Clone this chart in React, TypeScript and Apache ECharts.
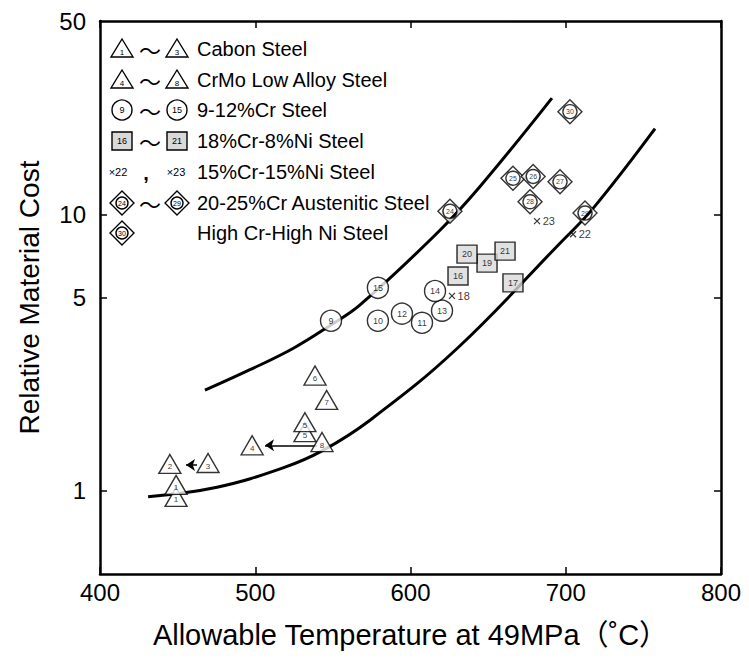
import React, { useEffect, useRef } from 'react';
import * as echarts from 'echarts';

// ---- axes ----
const X_MIN = 400;
const X_MAX = 800;
const X_STEP = 100;
const Y_MIN = 0.5;
const Y_MAX = 50;
const yLabelValues = [1, 5, 10, 50];
const yTickValues = [1, 5, 10];

// ---- data (temperature °C, relative cost, id) ----
const triangleTemps = [449, 449, 445, 469.6, 498, 543, 532, 532, 546, 538.5];
const triangleCosts = [0.95, 1.05, 1.25, 1.26, 1.46, 1.5, 1.63, 1.77, 2.13, 2.61];
const triangleIds = ['1', '1', '2', '3', '4', '8', '5', '5', '7', '6'];

const circleTemps = [548.8, 579, 579, 594.5, 607.4, 620.3, 615.8];
const circleCosts = [4.12, 5.42, 4.12, 4.37, 4.05, 4.48, 5.28];
const circleIds = ['9', '15', '10', '12', '11', '13', '14'];

const squareTemps = [630.6, 666, 649.3, 636.4, 660.9];
const squareCosts = [5.98, 5.65, 6.66, 7.18, 7.36];
const squareIds = ['16', '17', '19', '20', '21'];

const crossTemps = [626.7, 681.5, 704.7];
const crossCosts = [5.07, 9.44, 8.47];
const crossIds = ['18', '23', '22'];

const diamondTemps = [625.4, 666, 679, 696.3, 677, 712.4];
const diamondCosts = [10.25, 13.5, 13.7, 13.1, 11.1, 10.1];
const diamondIds = ['24', '25', '26', '27', '28', '29'];

const highNiTemps = [702.7];
const highNiCosts = [23.5];
const highNiIds = ['30'];

// ---- trend curves ----
const upperTemps = [467.6, 496.6, 524.3, 548.8, 567.5, 617.7, 644.8, 691.1];
const upperCosts = [2.31, 2.74, 3.27, 3.98, 4.7, 8.61, 12.6, 26.3];
const lowerTemps = [431, 475.4, 517.9, 543.6, 573.9, 630, 696.3, 717.6, 757.5];
const lowerCosts = [0.952, 1.03, 1.21, 1.4, 1.8, 3.27, 7.86, 10.5, 20.4];

// ---- arrows ----
const arrowFromTemps = [539.8, 462.5];
const arrowToTemps = [506.3, 455.4];
const arrowCosts = [1.46, 1.24];

const FONT = '"Liberation Sans", Arial, "Noto Sans CJK JP", sans-serif';
const CJK = '"Noto Sans CJK JP", "Liberation Sans", sans-serif';

const zip = (xs: number[], ys: number[], ids: string[]) =>
  xs.map((x, i) => ({ value: [x, ys[i]], name: ids[i] }));
const pairs = (xs: number[], ys: number[]) => xs.map((x, i) => [x, ys[i]]);

const DIAMOND_PATH =
  'path://M12,0 L24,12 L12,24 L0,12 Z M12,5 A7,7 0 1,0 12.01,5 Z';
const CROSS_PATH = 'path://M0,0 L10,10 M10,0 L0,10';

const markerStyle = { color: '#fff', borderColor: '#000', borderWidth: 1.4 };
const innerLabel = (size: number, dy = 0) => ({
  show: true,
  position: 'inside',
  formatter: '{b}',
  color: '#000',
  textBorderWidth: 0,
  fontSize: size,
  fontFamily: FONT,
  offset: [0, dy],
});

const stroke = { fill: '#fff', stroke: '#000', lineWidth: 1.4 };
const smallText = (x: number, y: number, t: string, size = 9, weight = 'normal') => ({
  type: 'text',
  x,
  y,
  style: {
    text: t,
    fill: '#000',
    font: `${weight} ${size}px ${FONT}`,
    textAlign: 'center',
    textVerticalAlign: 'middle',
  },
});
const legTri = (cx: number, cy: number, t: string) => [
  {
    type: 'polygon',
    shape: { points: [[cx, cy - 10], [cx + 11, cy + 8], [cx - 11, cy + 8]] },
    style: stroke,
  },
  smallText(cx, cy + 3, t, 8),
];
const legCirc = (cx: number, cy: number, t: string) => [
  { type: 'circle', shape: { cx, cy, r: 10 }, style: stroke },
  smallText(cx, cy, t, 9),
];
const legRect = (cx: number, cy: number, t: string) => [
  { type: 'rect', shape: { x: cx - 10, y: cy - 9, width: 20, height: 18 }, style: { ...stroke, fill: '#d9d9d9' } },
  smallText(cx, cy, t, 9),
];
const legDia = (cx: number, cy: number, t: string) => [
  {
    type: 'polygon',
    shape: { points: [[cx, cy - 12], [cx + 12, cy], [cx, cy + 12], [cx - 12, cy]] },
    style: stroke,
  },
  { type: 'circle', shape: { cx, cy, r: 6 }, style: stroke },
  smallText(cx, cy, t, 7),
];
const tilde = (cy: number) => ({
  type: 'text',
  x: 150,
  y: cy,
  style: {
    text: '〜',
    fill: '#000',
    font: `22px ${CJK}`,
    textAlign: 'center',
    textVerticalAlign: 'middle',
  },
});
const legText = (cy: number, t: string) => ({
  type: 'text',
  x: 197,
  y: cy,
  style: {
    text: t,
    fill: '#000',
    font: `20px ${FONT}`,
    textAlign: 'left',
    textVerticalAlign: 'middle',
  },
});

function buildLegend() {
  const r = [49, 80, 110, 141, 172, 203, 233];
  return [
    ...legTri(122, r[0], '1'), tilde(r[0]), ...legTri(177, r[0], '3'), legText(r[0], 'Cabon Steel'),
    ...legTri(122, r[1], '4'), tilde(r[1]), ...legTri(177, r[1], '8'), legText(r[1], 'CrMo Low Alloy Steel'),
    ...legCirc(122, r[2], '9'), tilde(r[2]), ...legCirc(177, r[2], '15'), legText(r[2], '9-12%Cr Steel'),
    ...legRect(122, r[3], '16'), tilde(r[3]), ...legRect(177, r[3], '21'), legText(r[3], '18%Cr-8%Ni Steel'),
    smallText(118, r[4], '×22', 11), smallText(146, r[4] + 1, ',', 20, 'bold'), smallText(176, r[4], '×23', 11),
    legText(r[4], '15%Cr-15%Ni Steel'),
    ...legDia(122, r[5], '24'), tilde(r[5]), ...legDia(177, r[5], '29'), legText(r[5], '20-25%Cr Austenitic Steel'),
    ...legDia(122, r[6], '30'), legText(r[6], 'High Cr-High Ni Steel'),
  ];
}

export default function App() {
  const ref = useRef<HTMLDivElement>(null);
  useEffect(() => {
    if (!ref.current) return;
    const chart = echarts.init(ref.current, null, { renderer: 'svg' });
    const axisLine = { show: true, lineStyle: { color: '#000', width: 2.5 } };
    const tick = { show: true, inside: true, length: 7, lineStyle: { color: '#000', width: 1.5 } };
    chart.setOption({
      animation: false,
      backgroundColor: '#fff',
      grid: { left: 100, right: 28, top: 21, bottom: 85, containLabel: false },
      xAxis: [
        {
          type: 'value',
          min: X_MIN,
          max: X_MAX,
          interval: X_STEP,
          name: 'Allowable Temperature at 49MPa（˚C）',
          nameLocation: 'middle',
          nameGap: 46,
          nameTextStyle: { color: '#000', fontSize: 29, fontFamily: FONT },
          axisLine,
          axisTick: tick,
          splitLine: { show: false },
          axisLabel: { color: '#000', fontSize: 24, fontFamily: FONT, margin: 6 },
        },
        {
          type: 'value',
          position: 'top',
          min: X_MIN,
          max: X_MAX,
          interval: X_STEP,
          axisLine,
          axisTick: tick,
          splitLine: { show: false },
          axisLabel: { show: false },
        },
      ],
      yAxis: [
        {
          type: 'log',
          logBase: 10,
          min: Y_MIN,
          max: Y_MAX,
          name: 'Relative Material Cost',
          nameLocation: 'middle',
          nameGap: 57,
          nameRotate: 90,
          nameTextStyle: { color: '#000', fontSize: 28, fontFamily: FONT },
          axisLine,
          axisTick: { ...tick, customValues: yTickValues },
          splitLine: { show: false },
          minorTick: { show: false },
          axisLabel: {
            color: '#000',
            fontSize: 24,
            fontFamily: FONT,
            margin: 14,
            customValues: yLabelValues,
          },
        },
        {
          type: 'log',
          logBase: 10,
          min: Y_MIN,
          max: Y_MAX,
          position: 'right',
          axisLine,
          axisTick: { ...tick, customValues: yTickValues },
          splitLine: { show: false },
          axisLabel: { show: false },
        },
      ],
      graphic: buildLegend(),
      series: [
        {
          type: 'line',
          data: pairs(upperTemps, upperCosts),
          smooth: 0.4,
          showSymbol: false,
          symbol: 'none',
          lineStyle: { color: '#000', width: 3 },
          z: 1,
        },
        {
          type: 'line',
          data: pairs(lowerTemps, lowerCosts),
          smooth: 0.4,
          showSymbol: false,
          symbol: 'none',
          lineStyle: { color: '#000', width: 3 },
          z: 1,
        },
        {
          type: 'lines',
          coordinateSystem: 'cartesian2d',
          symbol: ['none', 'arrow'],
          symbolSize: 9,
          lineStyle: { color: '#000', width: 1.5, opacity: 1 },
          data: arrowFromTemps.map((t, i) => ({
            coords: [
              [t, arrowCosts[i]],
              [arrowToTemps[i], arrowCosts[i]],
            ],
          })),
          z: 2,
        },
        {
          type: 'scatter',
          symbol: 'triangle',
          symbolSize: [22, 19],
          itemStyle: markerStyle,
          label: innerLabel(8, 3),
          data: zip(triangleTemps, triangleCosts, triangleIds),
          z: 3,
        },
        {
          type: 'scatter',
          symbol: 'circle',
          symbolSize: 21,
          itemStyle: markerStyle,
          label: innerLabel(9),
          data: zip(circleTemps, circleCosts, circleIds),
          z: 3,
        },
        {
          type: 'scatter',
          symbol: 'rect',
          symbolSize: [20, 18],
          itemStyle: { ...markerStyle, color: '#d9d9d9' },
          label: innerLabel(9),
          data: zip(squareTemps, squareCosts, squareIds),
          z: 3,
        },
        {
          type: 'scatter',
          symbol: CROSS_PATH,
          symbolSize: 6,
          itemStyle: { color: 'transparent', borderColor: '#000', borderWidth: 1.2 },
          label: {
            show: true,
            position: 'right',
            distance: 2,
            formatter: '{b}',
            color: '#000',
            textBorderWidth: 0,
            fontSize: 11,
            fontFamily: FONT,
          },
          data: zip(crossTemps, crossCosts, crossIds),
          z: 3,
        },
        {
          type: 'scatter',
          symbol: DIAMOND_PATH,
          symbolSize: 24,
          itemStyle: markerStyle,
          label: innerLabel(7),
          data: zip(diamondTemps, diamondCosts, diamondIds),
          z: 3,
        },
        {
          type: 'scatter',
          symbol: DIAMOND_PATH,
          symbolSize: 24,
          itemStyle: markerStyle,
          label: innerLabel(7),
          data: zip(highNiTemps, highNiCosts, highNiIds),
          z: 3,
        },
      ],
    });
    return () => chart.dispose();
  }, []);
  return (
    <div
      ref={ref}
      style={{ position: 'fixed', left: 0, top: 0, width: 749, height: 659, background: '#fff' }}
    />
  );
}
